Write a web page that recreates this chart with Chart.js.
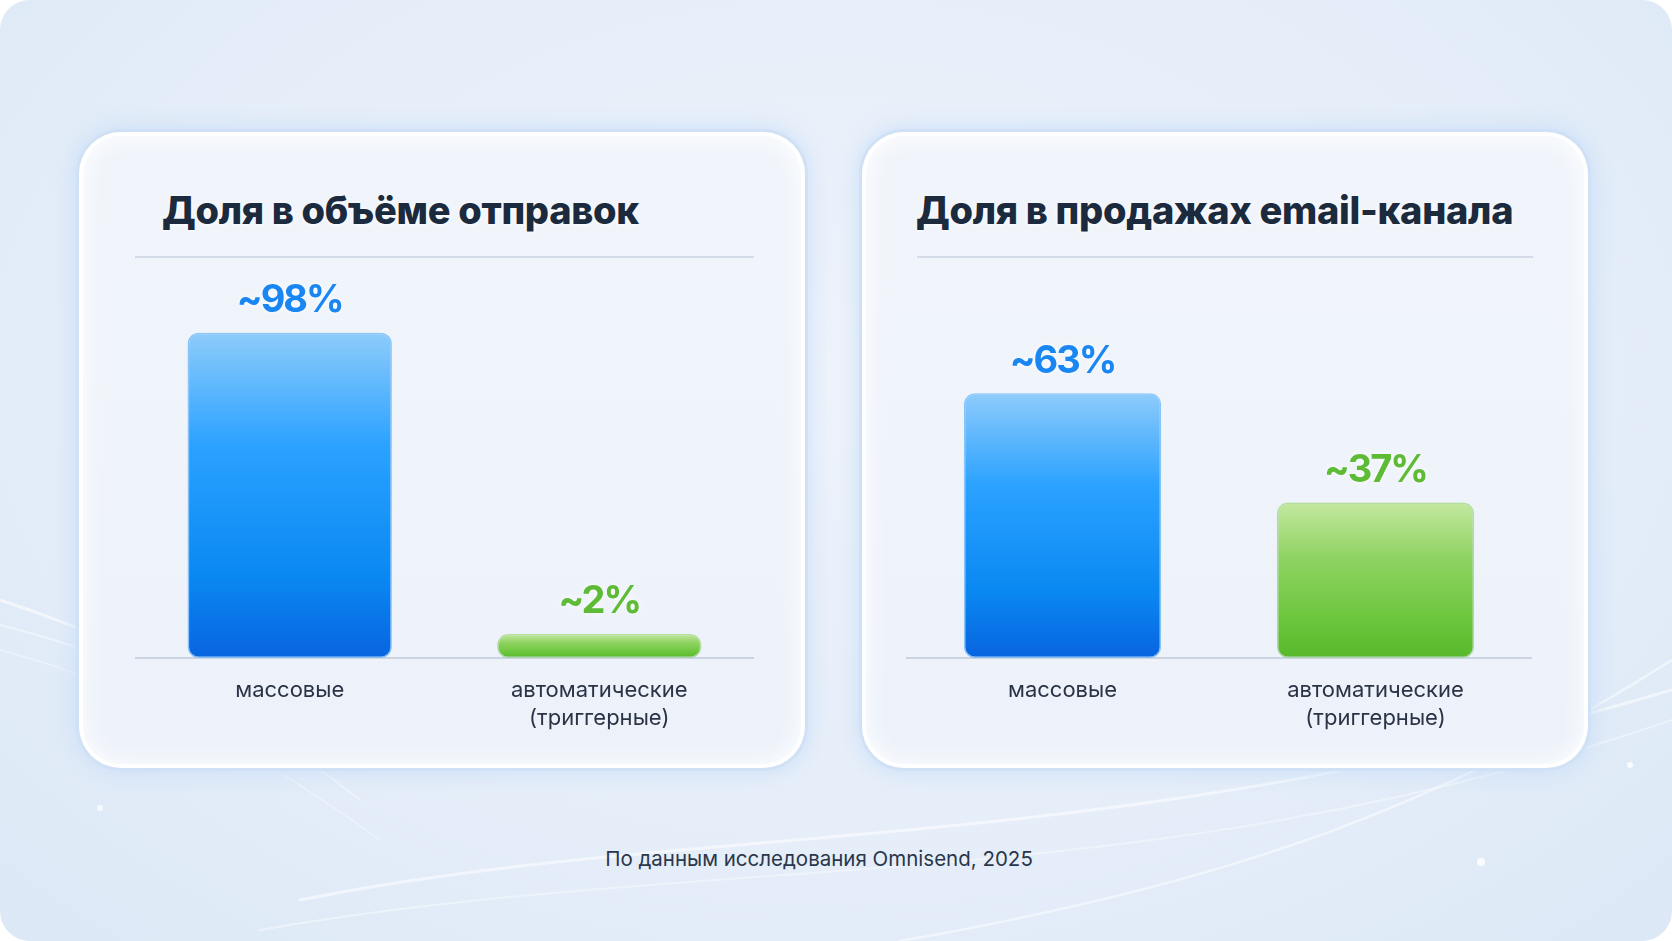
<!DOCTYPE html>
<html lang="ru">
<head>
<meta charset="utf-8">
<title>Массовые и автоматические рассылки</title>
<script src="https://cdn.jsdelivr.net/npm/chart.js@4.4.1/dist/chart.umd.min.js"></script>
<style>
  html, body { margin: 0; padding: 0; background: #ffffff; }
  body { width: 1672px; height: 941px; overflow: hidden; font-family: Inter, "Noto Sans", sans-serif; }
  .panel {
    position: absolute; left: 0; top: 0; width: 1672px; height: 941px;
    border-radius: 30px; overflow: hidden;
    background: radial-gradient(ellipse at 50% 40%, #eef3fb 0%, #e6eef9 55%, #dce8f6 100%);
  }
  .waves { position: absolute; left: 0; top: 0; }
  .card {
    position: absolute; top: 132px; width: 726px; height: 636px;
    border-radius: 42px; box-sizing: border-box;
    background: linear-gradient(180deg, #f1f5fb 0%, #edf2fa 100%);
    border: 4px solid rgba(255,255,255,0.97);
    box-shadow: 0 0 0 3px rgba(208,224,246,0.95), 0 0 20px 5px rgba(196,220,248,0.75),
                inset 0 0 24px rgba(255,255,255,0.95);
  }
  .title {
    position: absolute; top: 187px; font-weight: 800; font-size: 38px;
    color: #1c2a3e; letter-spacing: -0.3px; white-space: nowrap;
    text-shadow: 0 1px 4px rgba(255,255,255,0.9);
  }
  .sep { position: absolute; top: 256px; height: 2px; background: #d3dce8; }
  canvas { position: absolute; }
  .source {
    position: absolute; top: 846px; left: 0; width: 1638px; text-align: center;
    font-size: 20.5px; color: #2a374b;
  }
</style>
</head>
<body>
<div class="panel">
  <svg class="waves" width="1672" height="941" viewBox="0 0 1672 941">
    <g fill="none" stroke="#ffffff" stroke-linecap="round">
      <path d="M0 600 C 120 640, 230 690, 330 760" stroke-width="3" opacity="0.6"/>
      <path d="M0 625 C 140 660, 260 720, 360 800" stroke-width="2" opacity="0.45"/>
      <path d="M0 650 C 150 690, 270 760, 380 840" stroke-width="1.5" opacity="0.35"/>
      <path d="M300 900 C 700 820, 1100 860, 1672 690" stroke-width="3" opacity="0.55"/>
      <path d="M260 930 C 720 850, 1150 900, 1672 720" stroke-width="2" opacity="0.4"/>
      <path d="M900 941 C 1250 880, 1450 800, 1672 660" stroke-width="2.5" opacity="0.5"/>
    </g>
    <circle cx="1481" cy="862" r="4" fill="#ffffff" opacity="0.8"/>
    <circle cx="1630" cy="765" r="3" fill="#ffffff" opacity="0.8"/>
    <circle cx="100" cy="808" r="3" fill="#ffffff" opacity="0.7"/>
  </svg>

  <div class="card" style="left:79px"></div>
  <div class="card" style="left:862px"></div>

  <div class="title" style="left:162px">Доля в объёме отправок</div>
  <div class="title" style="left:916px">Доля в продажах email-канала</div>
  <div class="sep" style="left:135px; width:619px"></div>
  <div class="sep" style="left:917px; width:616px"></div>

  <canvas id="volumeChart" style="left:135px; top:265px" width="619" height="475"></canvas>
  <canvas id="salesChart" style="left:906px; top:265px" width="626" height="475"></canvas>

  <div class="source">По данным исследования Omnisend, 2025</div>
</div>

<script>
// data
const categories = ['массовые', ['автоматические', '(триггерные)']];
const volumeShare = [98, 2];
const salesShare = [63, 37];
const valuePrefix = '~';
const valueSuffix = '%';

const blueStops = ['#8ecbfb', '#2aa2ff', '#0a88f2', '#0864df'];
const greenStops = ['#c3e8a0', '#90d363', '#6cc63d', '#58b82a'];
const labelColors = ['#1a86f2', '#5dbb36'];

function barGradient(ctx) {
  const chart = ctx.chart;
  const area = chart.chartArea;
  if (!area || ctx.raw === undefined) return blueStops[1];
  const y = chart.scales.y;
  const base = y.getPixelForValue(0);
  let top = y.getPixelForValue(ctx.raw);
  top = Math.min(top, base - 24);
  const stops = ctx.dataIndex === 0 ? blueStops : greenStops;
  const g = chart.ctx.createLinearGradient(0, top, 0, base);
  g.addColorStop(0, stops[0]);
  g.addColorStop(0.35, stops[1]);
  g.addColorStop(0.75, stops[2]);
  g.addColorStop(1, stops[3]);
  return g;
}

const valueLabels = {
  id: 'valueLabels',
  afterDatasetsDraw(chart) {
    const ctx = chart.ctx;
    const meta = chart.getDatasetMeta(0);
    ctx.save();
    ctx.font = '700 38px Inter, "Noto Sans", sans-serif';
    ctx.letterSpacing = '-2px';
    ctx.textAlign = 'center';
    ctx.textBaseline = 'middle';
    meta.data.forEach((bar, i) => {
      const v = chart.data.datasets[0].data[i];
      ctx.shadowColor = 'rgba(255,255,255,0.9)';
      ctx.shadowBlur = 6;
      ctx.fillStyle = labelColors[i];
      ctx.fillText(valuePrefix + v + valueSuffix, bar.x, bar.y - 32);
    });
    ctx.restore();
  }
};

const barGlow = {
  id: 'barGlow',
  beforeDatasetsDraw(chart) {
    chart.ctx.save();
    chart.ctx.shadowColor = 'rgba(120,170,230,0.35)';
    chart.ctx.shadowBlur = 10;
    chart.ctx.shadowOffsetY = 3;
  },
  afterDatasetsDraw(chart) {
    chart.ctx.restore();
  }
};

function makeChart(id, values, yMax, barPct) {
  return new Chart(document.getElementById(id), {
    type: 'bar',
    data: {
      labels: categories,
      datasets: [{
        data: values,
        backgroundColor: barGradient,
        borderColor: ['rgba(130,195,255,0.9)', 'rgba(180,225,140,0.9)'],
        borderWidth: 1.5,
        borderRadius: 11,
        borderSkipped: false,
        minBarLength: 24,
        barPercentage: barPct,
        categoryPercentage: 1
      }]
    },
    options: {
      responsive: false,
      animation: false,
      layout: { padding: { top: 61, left: 0, right: 0, bottom: 0 } },
      plugins: { legend: { display: false }, tooltip: { enabled: false } },
      scales: {
        x: {
          grid: { display: false, drawTicks: false },
          border: { display: true, color: '#cbd5e2', width: 2 },
          ticks: {
            padding: 18,
            color: '#2a3446',
            font: { family: 'Inter, "Noto Sans", sans-serif', size: 22, lineHeight: 1.28 }
          },
          afterFit: s => { s.height = 82; }
        },
        y: { display: false, min: 0, max: yMax }
      }
    },
    plugins: [barGlow, valueLabels]
  });
}

makeChart('volumeChart', volumeShare, 100, 0.66);
makeChart('salesChart', salesShare, 79, 0.63);
</script>
</body>
</html>
